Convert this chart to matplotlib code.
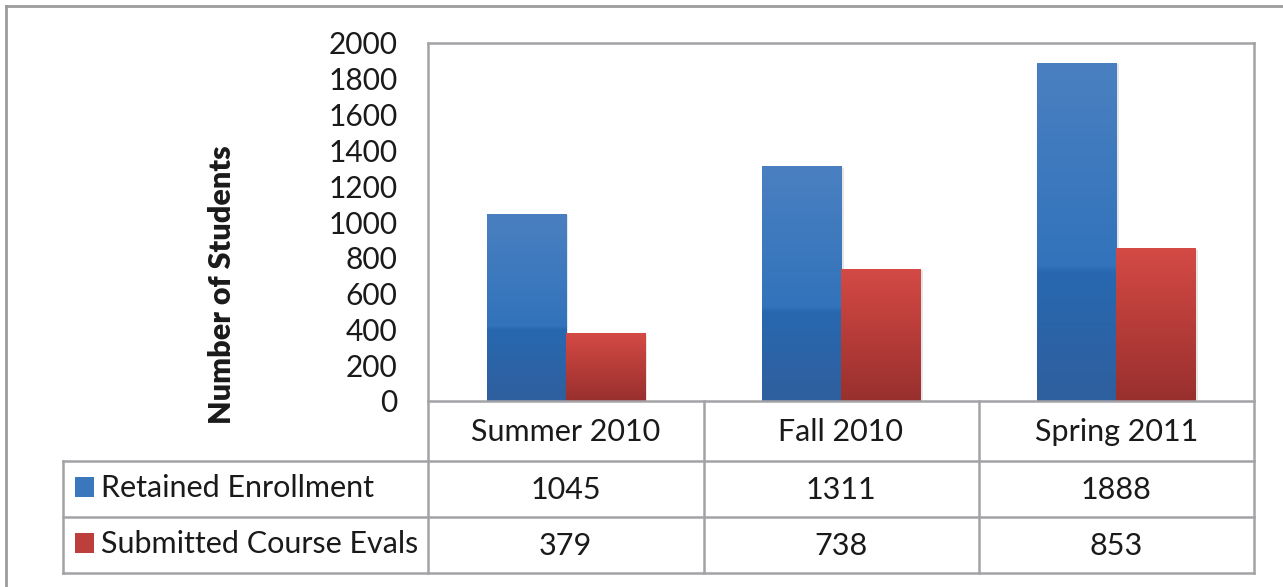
import matplotlib.pyplot as plt
import numpy as np
import matplotlib.patheffects as pe
from matplotlib.colors import LinearSegmentedColormap
from matplotlib.patches import Rectangle
from matplotlib.transforms import blended_transform_factory

plt.rcParams['font.family'] = ['Lato', 'DejaVu Sans']

terms = ['Summer 2010', 'Fall 2010', 'Spring 2011']
series = ['Retained Enrollment', 'Submitted Course Evals']
retained = [1045, 1311, 1888]
submitted = [379, 738, 853]
yticks = list(range(0, 2001, 200))

blue = LinearSegmentedColormap.from_list('blue', [(0, '#2F5F9E'), (0.38, '#2868B0'),
                                                  (0.40, '#3273BB'), (1, '#4A80C1')])
red = LinearSegmentedColormap.from_list('red', [(0, '#98302E'), (0.5, '#B73C39'), (1, '#D44A45')])

W, H = 1283, 587
fig = plt.figure(figsize=(W / 100, H / 100), dpi=100)

def fx(px):
    return px / W

def fy(py):
    return 1 - py / H

# plot area in pixels
L, R, T, B = 428, 1254, 43, 401
ax = fig.add_axes([fx(L), fy(B), fx(R) - fx(L), fy(T) - fy(B)])

x = np.arange(len(terms))
w = 0.287
grad = np.linspace(0, 1, 256).reshape(-1, 1)
shadow = [pe.SimplePatchShadow(offset=(2, -1), shadow_rgbFace='0.6', alpha=0.25), pe.Normal()]
for vals, off, cm in [(retained, -w / 2, blue), (submitted, w / 2, red)]:
    bars = ax.bar(x + off, vals, w, color=cm(0.6), zorder=2)
    for b in bars:
        b.set_path_effects(shadow)
        im = ax.imshow(grad, cmap=cm, origin='lower', aspect='auto', zorder=3,
                       extent=(b.get_x(), b.get_x() + b.get_width(), 0, b.get_height()))
        im.set_clip_path(b)

ax.set_xlim(-0.5, len(terms) - 0.5)
ax.set_ylim(0, 2000)
ax.set_yticks(yticks)
ax.set_xticks([])
ax.tick_params(axis='y', length=0, pad=22, labelsize=21.5, labelcolor='#1a1a1a')
for s in ax.spines.values():
    s.set_visible(False)

# overlay in pixel coordinates for borders and data table
frame = fig.add_axes([0, 0, 1, 1], zorder=3)
frame.set_facecolor('none')
frame.axis('off')

lc, lw = '#A3A3A7', 1.8
tl, r0, r1, r2, r3 = 63, 401, 461, 517, 573
colx = [L, 704, 979, R]

frame.plot([6, 6], [6, H], color='#9C9C9C', lw=2)
frame.plot([6, W], [6, 6], color='#9C9C9C', lw=2)
frame.plot([L, R], [T, T], color=lc, lw=lw)
frame.plot([L, R], [r0, r0], color=lc, lw=lw)
for yy in [r1, r2, r3]:
    frame.plot([tl, R], [yy, yy], color=lc, lw=lw)
frame.plot([tl, tl], [r1, r3], color=lc, lw=lw)
frame.plot([L, L], [T, r3], color=lc, lw=lw)
frame.plot([R, R], [T, r3], color=lc, lw=lw)
for cx in colx[1:-1]:
    frame.plot([cx, cx], [r0, r3], color=lc, lw=lw)

fs = 22
mix = blended_transform_factory(ax.transData, frame.transData)
for i, t in enumerate(terms):
    frame.text(i, (r0 + r1) / 2 + 1, t, transform=mix, ha='center', va='center',
               fontsize=fs, color='#1a1a1a')
for row, (name, vals, cm) in enumerate([(series[0], retained, blue), (series[1], submitted, red)]):
    yc = [(r1 + r2) / 2, (r2 + r3) / 2][row]
    for i, v in enumerate(vals):
        frame.text(i, yc + 1, str(v), transform=mix, ha='center', va='center',
                   fontsize=fs, color='#1a1a1a')
    sq = Rectangle((75, yc - 12), 19, 20, facecolor=cm(0.6), edgecolor='none')
    frame.add_patch(sq)
    im = frame.imshow(grad, cmap=cm, origin='lower', aspect='auto',
                      extent=(75, 94, yc + 8, yc - 12))
    im.set_clip_path(sq)
    frame.text(101, yc - 1, name, ha='left', va='center', fontsize=fs, color='#1a1a1a')

frame.set_xlim(0, W)
frame.set_ylim(H, 0)

fig.text(fx(222), fy(285), 'Number of Students', rotation=90, ha='center', va='center',
         fontsize=22, fontweight='heavy', color='#1a1a1a')

fig.savefig('out.png', dpi=100)
